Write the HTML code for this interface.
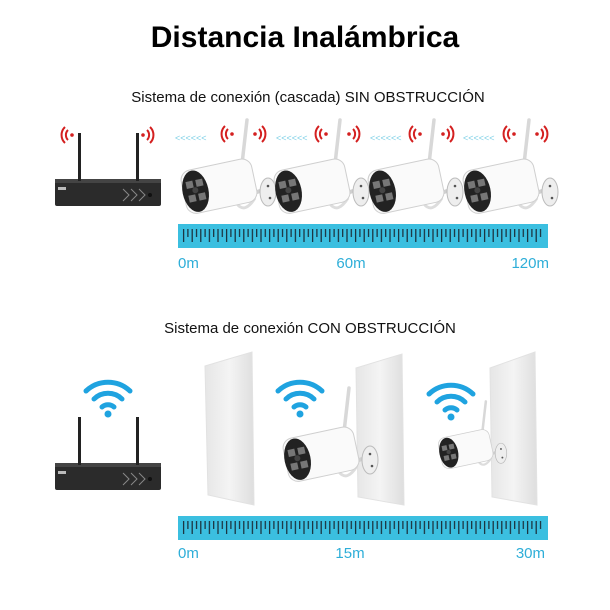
<!DOCTYPE html>
<html><head><meta charset="utf-8"><style>
html,body{margin:0;padding:0;background:#fff}
svg{display:block}
text{font-family:"Liberation Sans",sans-serif}
</style></head><body>
<svg width="610" height="610" viewBox="0 0 610 610" xmlns="http://www.w3.org/2000/svg">
<defs>
<pattern id="ticks" x="0" y="0" width="8.6" height="40" patternUnits="userSpaceOnUse">
<rect x="1" y="0" width="1.2" height="13" fill="#1a2a35"/>
<rect x="5.3" y="0" width="1.2" height="8" fill="#1a2a35"/>
</pattern>
<g id="redL"><circle cx="10" cy="8" r="1.8" fill="#d42020"/><path d="M6,3 A7,7 0 0 0 6,13 M3,0 A11,11 0 0 0 3,16" fill="none" stroke="#d42020" stroke-width="2"/></g>
<g id="redR"><circle cx="2" cy="8" r="1.8" fill="#d42020"/><path d="M6,3 A7,7 0 0 1 6,13 M9,0 A11,11 0 0 1 9,16" fill="none" stroke="#d42020" stroke-width="2"/></g>
<g id="blueW"><path d="M-22,-6 A32,32 0 0 1 22,-6 M-14,2 A20,20 0 0 1 14,2 M-6,10 A9,9 0 0 1 6,10" fill="none" stroke="#1fa3e0" stroke-width="5" stroke-linecap="round"/><circle cx="0" cy="17" r="3.5" fill="#1fa3e0"/></g>
<g id="cam">
<line x1="67" y1="46" x2="72" y2="2" stroke="#d8d8d8" stroke-width="3.5" stroke-linecap="round"/>
<path d="M70,78 L88,72" stroke="#cfcfcf" stroke-width="4"/>
<path d="M62,86 Q70,96 80,80" fill="none" stroke="#ddd" stroke-width="3"/>
<ellipse cx="93" cy="74" rx="8" ry="14" fill="#eee" stroke="#bbb" stroke-width="1"/>
<circle cx="93" cy="68" r="1.3" fill="#555"/><circle cx="95" cy="80" r="1.3" fill="#555"/>
<g transform="rotate(-12 45 68)">
<rect x="8" y="46" width="72" height="44" rx="10" fill="#fafafa" stroke="#cfcfcf"/>
<ellipse cx="20" cy="68" rx="13" ry="21" fill="#222"/>
<rect x="12" y="57" width="7" height="7" fill="#777"/><rect x="22" y="57" width="7" height="7" fill="#777"/>
<rect x="12" y="71" width="7" height="7" fill="#777"/><rect x="22" y="71" width="7" height="7" fill="#777"/>
<circle cx="20" cy="67" r="3" fill="#444"/>
</g>
</g>
<g id="nvr">
<rect x="0" y="48" width="106" height="25" rx="2" fill="#2b2b2b"/>
<rect x="0" y="46" width="106" height="4" fill="#444"/>
<rect x="3" y="54" width="8" height="3" fill="#bbb"/>
<path d="M68,56 l6,6 l-6,6 M76,56 l6,6 l-6,6 M84,56 l6,6 l-6,6" fill="none" stroke="#888" stroke-width="1"/>
<circle cx="95" cy="62" r="2" fill="#111"/>
<rect x="23" y="0" width="3" height="48" fill="#222"/>
<rect x="81" y="0" width="3" height="48" fill="#222"/>
</g>
<linearGradient id="pg" x1="0" x2="1"><stop offset="0" stop-color="#e6e6e6"/><stop offset="0.5" stop-color="#f4f4f4"/><stop offset="1" stop-color="#dedede"/></linearGradient>
</defs>

<text x="305" y="47" font-size="30" font-weight="bold" text-anchor="middle" fill="#000">Distancia Inalámbrica</text>
<text x="308" y="102" font-size="15" text-anchor="middle" fill="#111">Sistema de conexión (cascada) SIN OBSTRUCCIÓN</text>

<!-- row 1 -->
<use href="#nvr" x="55" y="133"/>
<use href="#redL" x="62" y="127"/><use href="#redR" x="141" y="127"/>
<g fill="#7fd0e6" font-size="9">
<text x="175" y="141">&lt;&lt;&lt;&lt;&lt;&lt;</text>
<text x="276" y="141">&lt;&lt;&lt;&lt;&lt;&lt;</text>
<text x="370" y="141">&lt;&lt;&lt;&lt;&lt;&lt;</text>
<text x="463" y="141">&lt;&lt;&lt;&lt;&lt;&lt;</text>
</g>
<use href="#cam" x="175" y="118"/>
<use href="#cam" x="268" y="118"/>
<use href="#cam" x="362" y="118"/>
<use href="#cam" x="457" y="118"/>
<use href="#redL" x="222" y="126"/><use href="#redR" x="253" y="126"/>
<use href="#redL" x="316" y="126"/><use href="#redR" x="347" y="126"/>
<use href="#redL" x="410" y="126"/><use href="#redR" x="441" y="126"/>
<use href="#redL" x="504" y="126"/><use href="#redR" x="535" y="126"/>

<rect x="178" y="224" width="370" height="24" fill="#3bbfe0"/>
<g transform="translate(182 229)"><rect x="0" y="0" width="362" height="13" fill="url(#ticks)"/></g>
<g fill="#2eaed8" font-size="15">
<text x="178" y="268">0m</text>
<text x="351" y="268" text-anchor="middle">60m</text>
<text x="549" y="268" text-anchor="end">120m</text>
</g>

<text x="310" y="333" font-size="15" text-anchor="middle" fill="#111">Sistema de conexión CON OBSTRUCCIÓN</text>

<!-- panels -->
<polygon points="205,366 252,352 254,505 208,495" fill="url(#pg)" stroke="#e2e2e2"/>
<polygon points="356,368 402,354 404,505 358,497" fill="url(#pg)" stroke="#e2e2e2"/>
<polygon points="490,368 535,352 537,505 492,497" fill="url(#pg)" stroke="#e2e2e2"/>

<use href="#nvr" x="55" y="417"/>
<use href="#blueW" x="108" y="397"/>
<use href="#blueW" x="300" y="397"/>
<use href="#blueW" x="451" y="400"/>
<use href="#cam" x="277" y="386"/>
<use href="#cam" transform="translate(434 400) scale(0.72)"/>

<rect x="178" y="516" width="370" height="24" fill="#3bbfe0"/>
<g transform="translate(182 521)"><rect x="0" y="0" width="362" height="13" fill="url(#ticks)"/></g>
<g fill="#2eaed8" font-size="15">
<text x="178" y="558">0m</text>
<text x="350" y="558" text-anchor="middle">15m</text>
<text x="545" y="558" text-anchor="end">30m</text>
</g>
</svg>
</body></html>
